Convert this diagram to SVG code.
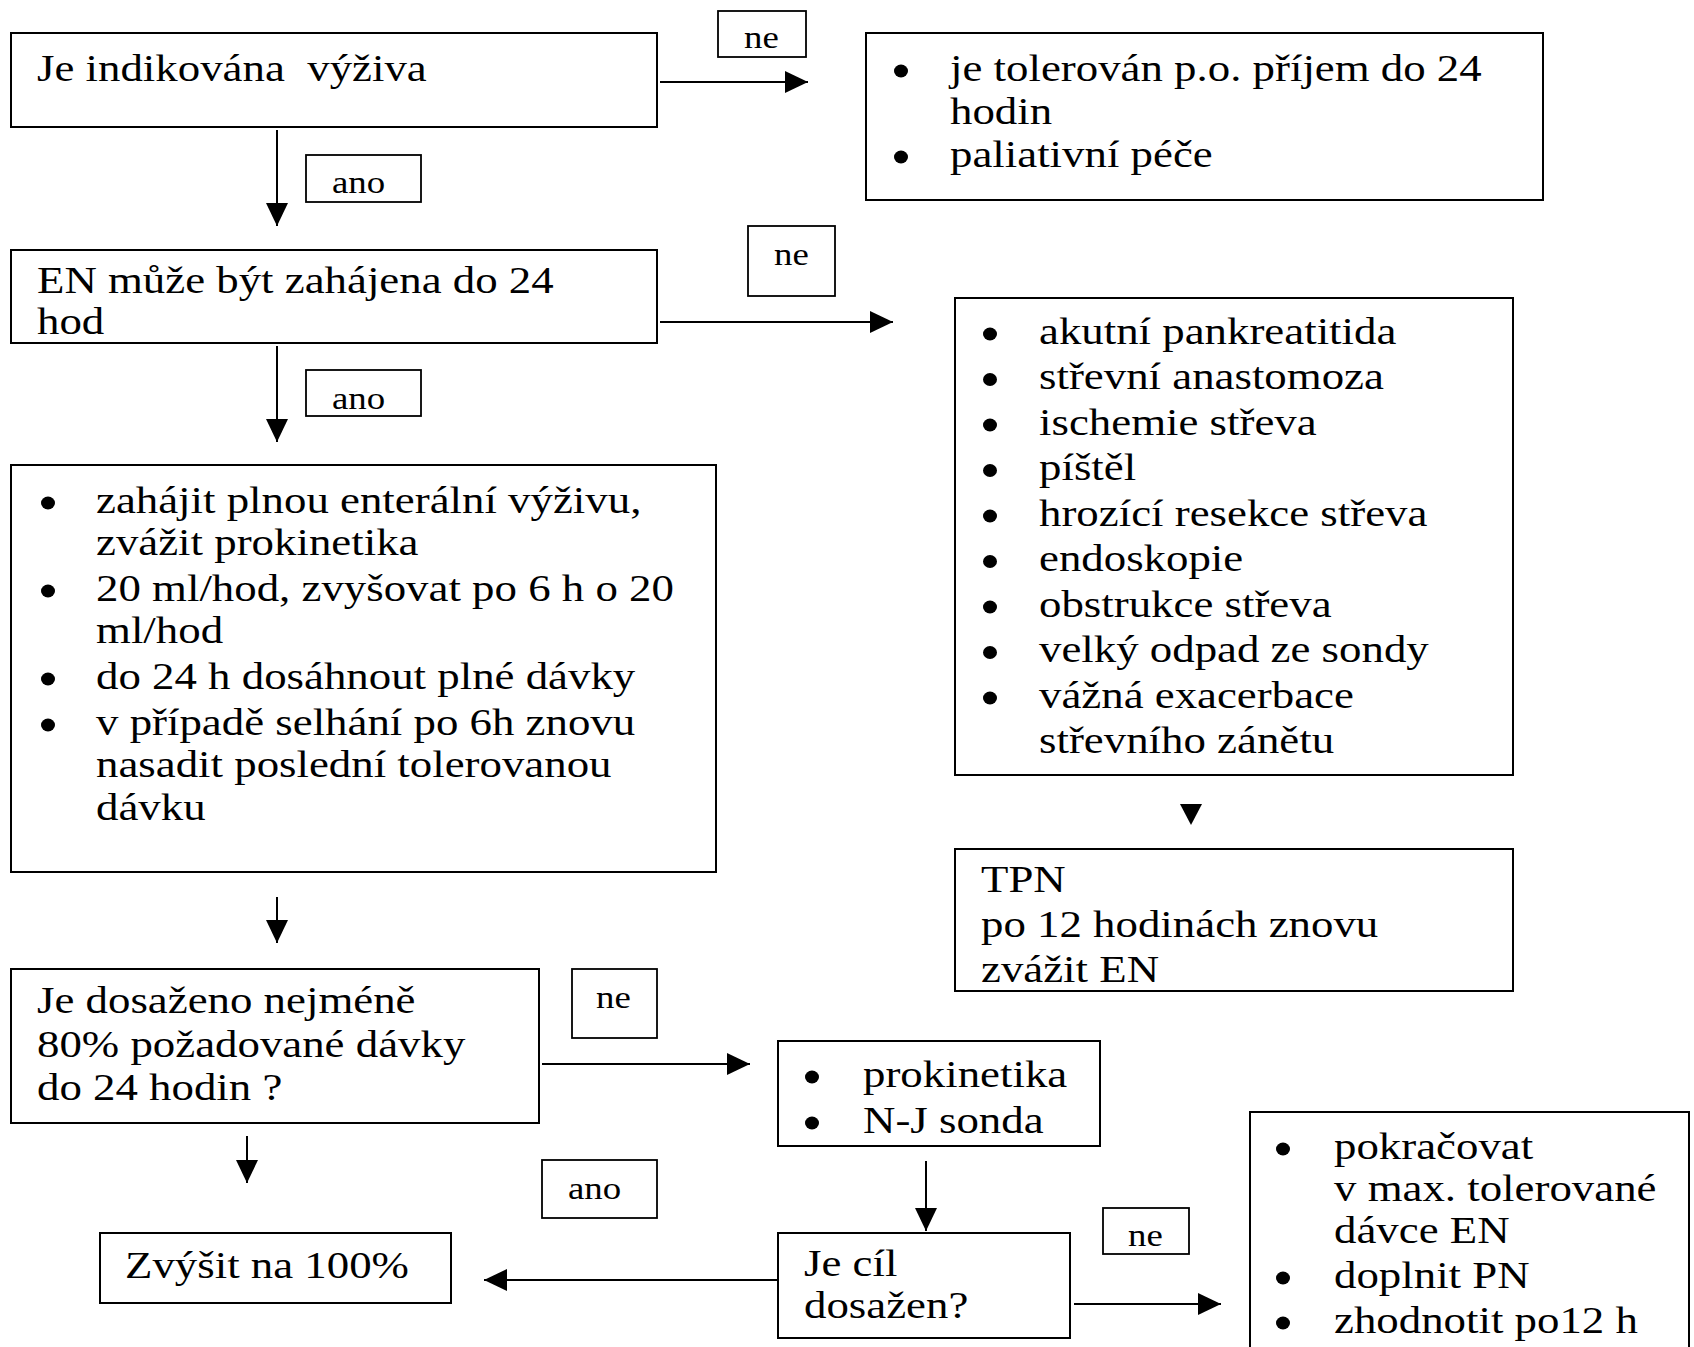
<svg xmlns="http://www.w3.org/2000/svg" xmlns:xlink="http://www.w3.org/1999/xlink" width="1694" height="1347" viewBox="0 0 1694 1347">
<style>
.box{fill:#fff;stroke:#000;stroke-width:2}
.lab{fill:#fff;stroke:#000;stroke-width:1.8}
.t{font-family:"Liberation Serif","Times New Roman",serif;font-size:39px;fill:#000}
.l{font-family:"Liberation Serif","Times New Roman",serif;font-size:32px;fill:#000}
.c{fill:none;stroke:#000;stroke-width:2;marker-end:url(#ah)}
</style>
<defs>
<marker id="ah" markerUnits="userSpaceOnUse" markerWidth="23" markerHeight="22" refX="23" refY="11" orient="auto">
<path d="M0,0 L23,11 L0,22 Z" fill="#000"/>
</marker>
<ellipse id="dot" cx="0" cy="0" rx="7" ry="6.5" fill="#000"/>
</defs>
<rect width="1694" height="1347" fill="#fff"/>

<g id="connectors">
<path class="c" d="M660,82 H808"/>
<path class="c" d="M277,130 V226"/>
<path class="c" d="M660,322 H893"/>
<path class="c" d="M277,346 V442"/>
<path class="c" d="M277,897 V943"/>
<path class="c" d="M542,1064 H750"/>
<path class="c" d="M247,1136 V1183"/>
<path class="c" d="M926,1161 V1231"/>
<path class="c" d="M778,1280 H484"/>
<path class="c" d="M1074,1304 H1221"/>
<polygon points="1180,804 1202,804 1191,825" fill="#000"/>
</g>

<g id="label-ne1">
<rect class="lab" x="718" y="11" width="88" height="46"/>
<text class="l" transform="translate(744,48) scale(1.15,1)">ne</text>
</g>
<g id="label-ano1">
<rect class="lab" x="306" y="155" width="115" height="47"/>
<text class="l" transform="translate(332,193) scale(1.15,1)">ano</text>
</g>
<g id="label-ne2">
<rect class="lab" x="748" y="226" width="87" height="70"/>
<text class="l" transform="translate(774,265) scale(1.15,1)">ne</text>
</g>
<g id="label-ano2">
<rect class="lab" x="306" y="370" width="115" height="46"/>
<text class="l" transform="translate(332,409) scale(1.15,1)">ano</text>
</g>
<g id="label-ne3">
<rect class="lab" x="572" y="969" width="85" height="69"/>
<text class="l" transform="translate(596,1008) scale(1.15,1)">ne</text>
</g>
<g id="label-ano3">
<rect class="lab" x="542" y="1160" width="115" height="58"/>
<text class="l" transform="translate(568,1199) scale(1.15,1)">ano</text>
</g>
<g id="label-ne4">
<rect class="lab" x="1103" y="1208" width="86" height="46"/>
<text class="l" transform="translate(1128,1246) scale(1.15,1)">ne</text>
</g>

<g id="node-indikovana">
<rect class="box" x="11" y="33" width="646" height="94"/>
<text class="t" transform="translate(37,81) scale(1.15,1)">Je indikována&#160; výživa</text>
</g>

<g id="node-tolerovan">
<rect class="box" x="866" y="33" width="677" height="167"/>
<use xlink:href="#dot" x="901" y="71"/>
<use xlink:href="#dot" x="901" y="157"/>
<text class="t" transform="translate(950,81) scale(1.15,1)"><tspan x="0" y="0">je tolerován p.o. příjem do 24</tspan><tspan x="0" y="43">hodin</tspan><tspan x="0" y="86">paliativní péče</tspan></text>
</g>

<g id="node-en24">
<rect class="box" x="11" y="250" width="646" height="93"/>
<text class="t" transform="translate(37,293) scale(1.15,1)"><tspan x="0" y="0">EN může být zahájena do 24</tspan><tspan x="0" y="41">hod</tspan></text>
</g>

<g id="node-kontraindikace">
<rect class="box" x="955" y="298" width="558" height="477"/>
<use xlink:href="#dot" x="990" y="334"/>
<use xlink:href="#dot" x="990" y="379.5"/>
<use xlink:href="#dot" x="990" y="425"/>
<use xlink:href="#dot" x="990" y="470.5"/>
<use xlink:href="#dot" x="990" y="516"/>
<use xlink:href="#dot" x="990" y="561.5"/>
<use xlink:href="#dot" x="990" y="607"/>
<use xlink:href="#dot" x="990" y="652.5"/>
<use xlink:href="#dot" x="990" y="698"/>
<text class="t" transform="translate(1039,344) scale(1.15,1)"><tspan x="0" y="0">akutní pankreatitida</tspan><tspan x="0" y="45.5">střevní anastomoza</tspan><tspan x="0" y="91">ischemie střeva</tspan><tspan x="0" y="136.5">píštěl</tspan><tspan x="0" y="182">hrozící resekce střeva</tspan><tspan x="0" y="227.5">endoskopie</tspan><tspan x="0" y="273">obstrukce střeva</tspan><tspan x="0" y="318.5">velký odpad ze sondy</tspan><tspan x="0" y="364">vážná exacerbace</tspan><tspan x="0" y="409.5">střevního zánětu</tspan></text>
</g>

<g id="node-zahajit">
<rect class="box" x="11" y="465" width="705" height="407"/>
<use xlink:href="#dot" x="48" y="503"/>
<use xlink:href="#dot" x="48" y="591"/>
<use xlink:href="#dot" x="48" y="679"/>
<use xlink:href="#dot" x="48" y="725"/>
<text class="t" transform="translate(96,513) scale(1.15,1)"><tspan x="0" y="0">zahájit plnou enterální výživu,</tspan><tspan x="0" y="42">zvážit prokinetika</tspan><tspan x="0" y="88">20 ml/hod, zvyšovat po 6 h o 20</tspan><tspan x="0" y="130">ml/hod</tspan><tspan x="0" y="176">do 24 h dosáhnout plné dávky</tspan><tspan x="0" y="222">v případě selhání po 6h znovu</tspan><tspan x="0" y="264">nasadit poslední tolerovanou</tspan><tspan x="0" y="307">dávku</tspan></text>
</g>

<g id="node-tpn">
<rect class="box" x="955" y="849" width="558" height="142"/>
<text class="t" transform="translate(981,892) scale(1.15,1)"><tspan x="0" y="0">TPN</tspan><tspan x="0" y="45">po 12 hodinách znovu</tspan><tspan x="0" y="90">zvážit EN</tspan></text>
</g>

<g id="node-dosazeno80">
<rect class="box" x="11" y="969" width="528" height="154"/>
<text class="t" transform="translate(37,1013) scale(1.15,1)"><tspan x="0" y="0">Je dosaženo nejméně</tspan><tspan x="0" y="44">80% požadované dávky</tspan><tspan x="0" y="87">do 24 hodin ?</tspan></text>
</g>

<g id="node-prokinetika">
<rect class="box" x="778" y="1041" width="322" height="105"/>
<use xlink:href="#dot" x="812" y="1077"/>
<use xlink:href="#dot" x="812" y="1123"/>
<text class="t" transform="translate(863,1087) scale(1.15,1)"><tspan x="0" y="0">prokinetika</tspan><tspan x="0" y="46">N-J sonda</tspan></text>
</g>

<g id="node-cil">
<rect class="box" x="778" y="1233" width="292" height="105"/>
<text class="t" transform="translate(804,1276) scale(1.15,1)"><tspan x="0" y="0">Je cíl</tspan><tspan x="0" y="42">dosažen?</tspan></text>
</g>

<g id="node-zvysit">
<rect class="box" x="100" y="1233" width="351" height="70"/>
<text class="t" transform="translate(125,1278) scale(1.15,1)">Zvýšit na 100%</text>
</g>

<g id="node-pokracovat">
<rect class="box" x="1250" y="1112" width="439" height="250"/>
<use xlink:href="#dot" x="1283" y="1149"/>
<use xlink:href="#dot" x="1283" y="1278"/>
<use xlink:href="#dot" x="1283" y="1323"/>
<text class="t" transform="translate(1334,1159) scale(1.15,1)"><tspan x="0" y="0">pokračovat</tspan><tspan x="0" y="42">v max. tolerované</tspan><tspan x="0" y="84">dávce EN</tspan><tspan x="0" y="129">doplnit PN</tspan><tspan x="0" y="174">zhodnotit po12 h</tspan></text>
</g>
</svg>
